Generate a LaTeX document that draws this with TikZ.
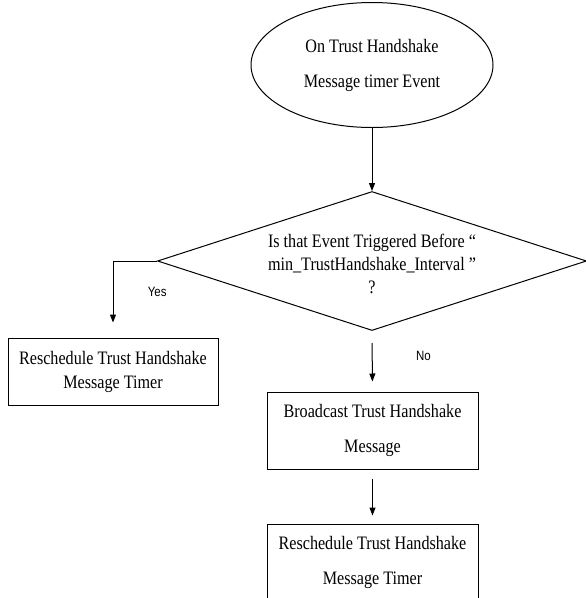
\documentclass[tikz,border=0pt]{standalone}
\usepackage{fontspec}
\usepackage{tikz}
\usetikzlibrary{arrows.meta, shapes.geometric}
\newfontfamily\flowfont[FakeStretch=0.85]{Liberation Serif}
\newfontfamily\labelfont[FakeStretch=0.85]{Liberation Sans}

\tikzset{
    flowtext/.style={font=\flowfont\fontsize{19}{24}\selectfont, align=center},
    event/.style={draw, ellipse, flowtext, minimum width=242pt, minimum height=125pt, inner sep=0pt},
    decision/.style={draw, diamond, inner sep=0pt, minimum width=429pt, minimum height=139pt},
    process/.style={draw, rectangle, flowtext, minimum width=211pt, minimum height=77pt},
    answer/.style={font=\labelfont\fontsize{13.5}{16}\selectfont}
}

\begin{document}
\begin{tikzpicture}[>={Triangle[length=8pt,width=6pt]}, x=1pt, y=-1pt, line width=1pt]
    \useasboundingbox (0,0) rectangle (586,598);
    \clip (0,0) rectangle (586,598);
    % Start event
    \node[event] (timerEvent) at (372,65) {On Trust Handshake\\[11pt]Message timer Event};
    % Check interval
    \node[decision, label={[flowtext, font=\flowfont\fontsize{19}{23}\selectfont, yshift=-3pt]center:{Is that Event Triggered Before “\\min\_TrustHandshake\_Interval ”\\?}}] (checkInterval) at (372,261) {};
    % Actions
    \node[process, minimum width=210pt, minimum height=67pt] (rescheduleLeft) at (113,371.5) {Reschedule Trust Handshake\\Message Timer};
    \node[process] (broadcastMsg) at (372.5,430.5) {Broadcast Trust Handshake\\[11pt]Message};
    \node[process] (rescheduleRight) at (372.5,562.5) {Reschedule Trust Handshake\\[11pt]Message Timer};
    % Arrows
    \draw[->] (timerEvent) -- (checkInterval);
    \draw[->, shorten >=15pt] (checkInterval.west) -| (rescheduleLeft.north) node[answer, pos=0.7, right=31pt] {Yes};
    \draw[->, shorten <=12pt, shorten >=10pt] (checkInterval.south) -- (broadcastMsg.north) node[answer, pos=0.42, right=40pt] {No};
    \draw[->, shorten <=9pt, shorten >=8pt] (broadcastMsg) -- (rescheduleRight);
\end{tikzpicture}
\end{document}
